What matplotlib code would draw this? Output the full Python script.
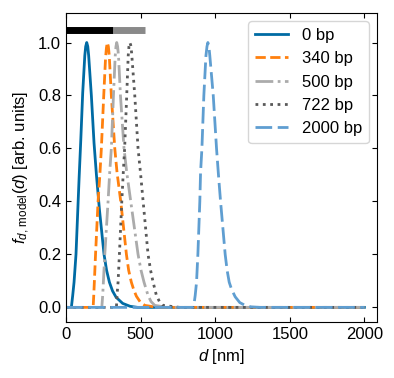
import matplotlib
matplotlib.use("Agg")
import matplotlib.pyplot as plt

plt.rcParams['font.family'] = ['Liberation Sans', 'DejaVu Sans']
plt.rcParams['mathtext.fontset'] = 'custom'
plt.rcParams['mathtext.rm'] = 'Liberation Sans'
plt.rcParams['mathtext.it'] = 'Liberation Sans:italic'
plt.rcParams['font.size'] = 12

# ---- data ----
labels = ["0 bp", "340 bp", "500 bp", "722 bp", "2000 bp"]

d_0 = [0, 36, 45, 54, 67, 80, 88, 99, 112, 126, 132, 139, 146, 152, 170, 188, 204, 224, 255, 272, 291, 312, 336, 380, 430, 480, 2000]
f_0 = [0, 0, 0.045, 0.095, 0.2, 0.38, 0.49, 0.63, 0.81, 0.95, 0.985, 1.0, 0.985, 0.95, 0.8, 0.62, 0.5, 0.37, 0.2, 0.14, 0.095, 0.062, 0.038, 0.015, 0.004, 0, 0]

d_340 = [0, 182, 186, 190, 198, 215, 228, 237, 253, 265, 271, 277, 284, 290, 304, 327, 342, 367, 405, 420, 438, 455, 472, 498, 528, 600, 650, 2000]
f_340 = [0, 0, 0.045, 0.095, 0.2, 0.4, 0.51, 0.6, 0.8, 0.94, 0.98, 1.0, 0.985, 0.95, 0.8, 0.6, 0.51, 0.4, 0.2, 0.14, 0.095, 0.065, 0.042, 0.02, 0.0075, 0.001, 0, 0]

d_500 = [0, 240, 246, 251, 260, 282, 293, 304, 318, 330, 335, 340, 346, 352, 365, 389, 407, 434, 483, 503, 523, 550, 570, 595, 680, 2000]
f_500 = [0, 0, 0.045, 0.1, 0.2, 0.4, 0.51, 0.6, 0.8, 0.95, 0.985, 1.0, 0.985, 0.95, 0.8, 0.6, 0.51, 0.4, 0.2, 0.14, 0.095, 0.045, 0.022, 0.0075, 0, 0]

d_722 = [0, 338, 342, 349, 358, 374, 384, 393, 407, 417, 422, 428, 434, 440, 461, 483, 499, 517, 550, 567, 584, 606, 628, 651, 760, 2000]
f_722 = [0, 0, 0.045, 0.095, 0.2, 0.4, 0.51, 0.6, 0.8, 0.95, 0.985, 1.0, 0.99, 0.96, 0.8, 0.6, 0.51, 0.4, 0.2, 0.14, 0.095, 0.045, 0.02, 0.0075, 0, 0]

d_2000 = [0, 850, 860, 866, 875, 884, 897, 902, 911, 924, 938, 945, 951, 958, 964, 987, 1009, 1022, 1036, 1067, 1080, 1094, 1110, 1134, 1165, 1201, 1240, 1300, 2000]
f_2000 = [0, 0, 0.02, 0.045, 0.095, 0.2, 0.4, 0.51, 0.6, 0.8, 0.95, 0.985, 1.0, 0.985, 0.95, 0.8, 0.6, 0.5, 0.4, 0.2, 0.14, 0.095, 0.068, 0.04, 0.018, 0.0075, 0.002, 0, 0]

# top bar segments (nm)
bar_black = [0, 317]
bar_gray = [317, 531]
bar_level = 1.049

colors = ['#006BA4', '#FF800E', '#ABABAB', '#595959', '#5F9ED1']
styles = ['-', '--', '-.', ':', (0, (6, 2))]

fig = plt.figure(figsize=(3.94, 3.78), dpi=100)
ax = fig.add_axes([0.1675, 0.149, 0.7895, 0.817])

series = [(d_0, f_0), (d_340, f_340), (d_500, f_500), (d_722, f_722), (d_2000, f_2000)]
for (dd, ff), lab, c, ls in zip(series, labels, colors, styles):
    ax.plot(dd, ff, color=c, ls=ls, lw=2, label=lab)

ax.plot(bar_black, [bar_level, bar_level], color='black', lw=5, solid_capstyle='butt')
ax.plot(bar_gray, [bar_level, bar_level], color='#898989', lw=5, solid_capstyle='butt')

ax.set_xlim(0, 2085)
ax.set_ylim(-0.054, 1.112)
ax.set_xticks([0, 500, 1000, 1500, 2000])
ax.set_yticks([0.0, 0.2, 0.4, 0.6, 0.8, 1.0])
ax.tick_params(direction='in', top=True, right=True, labelsize=12)
ax.set_xlabel(r'$d$ [nm]', fontsize=12)
ax.set_ylabel(r'$f_{d,\,\mathrm{model}}(d)$ [arb. units]', fontsize=12)
ax.legend(loc='upper right', fontsize=12)

fig.savefig('out.png', dpi=100)
